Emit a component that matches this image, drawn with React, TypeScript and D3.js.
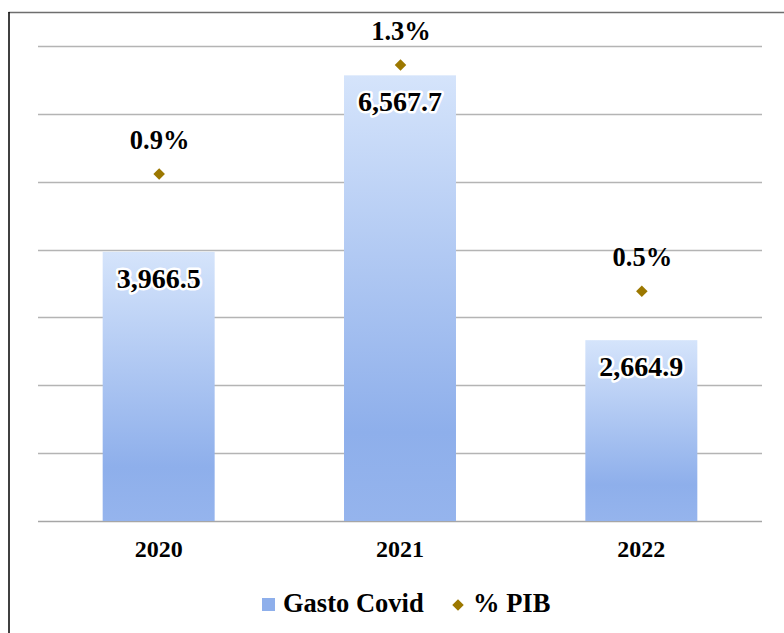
import React from "react";
import * as d3 from "d3";

const categories = ["2020", "2021", "2022"];
const gastoCovid = [3966.5, 6567.7, 2664.9];
const pctPib = [0.9, 1.3, 0.47];
const yTicks = [0, 1000, 2000, 3000, 4000, 5000, 6000, 7000];
const legendLabels = ["Gasto Covid", "% PIB"];

const W = 784;
const H = 633;
const left = 38;
const right = 762;
const top = 46;
const bottom = 521;
const font = "'Liberation Serif', 'Times New Roman', serif";

export default function App() {
  const x = d3.scaleBand().domain(categories).range([left, right]).paddingInner(0.536).paddingOuter(0.268);
  const y = d3.scaleLinear().domain([0, 7000]).range([bottom, top]);
  const y2 = d3.scaleLinear().domain([-0.373, 1.37]).range([bottom, top]);
  const diamond = d3.symbol().type(d3.symbolDiamond2).size(85)();
  const fmt = d3.format(",.1f");

  return (
    <svg width={W} height={H} style={{ position: "absolute", left: 0, top: 0, background: "#fff" }}>
      <defs>
        <linearGradient id="barGrad" x1="0" y1="0" x2="0" y2="1">
          <stop offset="0" stopColor="#d5e4fb" />
          <stop offset="0.8" stopColor="#8eafeb" />
          <stop offset="1" stopColor="#95b4ed" />
        </linearGradient>
      </defs>
      <line x1={8.5} y1={12.5} x2={W} y2={12.5} stroke="#6e6e6e" strokeWidth={1.5} />
      <line x1={9} y1={12} x2={9} y2={H} stroke="#000" strokeWidth={1.5} />
      {yTicks.map((t) => (
        <line key={t} x1={left} x2={right} y1={Math.round(y(t)) + 0.5} y2={Math.round(y(t)) + 0.5}
          stroke={t === 0 ? "#a6a6a6" : "#b4b4b4"} strokeWidth={1.3} />
      ))}
      {categories.map((c, i) => (
        <rect key={c} x={x(c)} y={y(gastoCovid[i])} width={x.bandwidth()} height={bottom - y(gastoCovid[i])}
          fill="url(#barGrad)" />
      ))}
      {categories.map((c, i) => (
        <text key={"v" + c} x={x(c)! + x.bandwidth() / 2} y={y(gastoCovid[i]) + 36} textAnchor="middle"
          fontFamily={font} fontWeight="bold" fontSize={28} fill="#000" stroke="#fff" strokeWidth={5}
          strokeLinejoin="round" paintOrder="stroke">
          {fmt(gastoCovid[i])}
        </text>
      ))}
      {categories.map((c, i) => (
        <path key={"d" + c} d={diamond!} transform={`translate(${x(c)! + x.bandwidth() / 2 + 0.5},${y2(pctPib[i])})`}
          fill="#9c7800" />
      ))}
      {categories.map((c, i) => (
        <text key={"p" + c} x={x(c)! + x.bandwidth() / 2 + 1} y={y2(pctPib[i]) - 25} textAnchor="middle"
          fontFamily={font} fontWeight="bold" fontSize={26.5} fill="#000">
          {pctPib[i].toFixed(1) + "%"}
        </text>
      ))}
      {categories.map((c) => (
        <text key={"x" + c} x={x(c)! + x.bandwidth() / 2} y={557} textAnchor="middle"
          fontFamily={font} fontWeight="bold" fontSize={24} fill="#000">
          {c}
        </text>
      ))}
      <rect x={262} y={598} width={13} height={13} fill="#8eafeb" />
      <text x={283} y={612} fontFamily={font} fontWeight="bold" fontSize={26.5} fill="#000">{legendLabels[0]}</text>
      <path d={diamond!} transform="translate(458,605)" fill="#9c7800" />
      <text x={473} y={612} fontFamily={font} fontWeight="bold" fontSize={26.5} fill="#000">{legendLabels[1]}</text>
    </svg>
  );
}
